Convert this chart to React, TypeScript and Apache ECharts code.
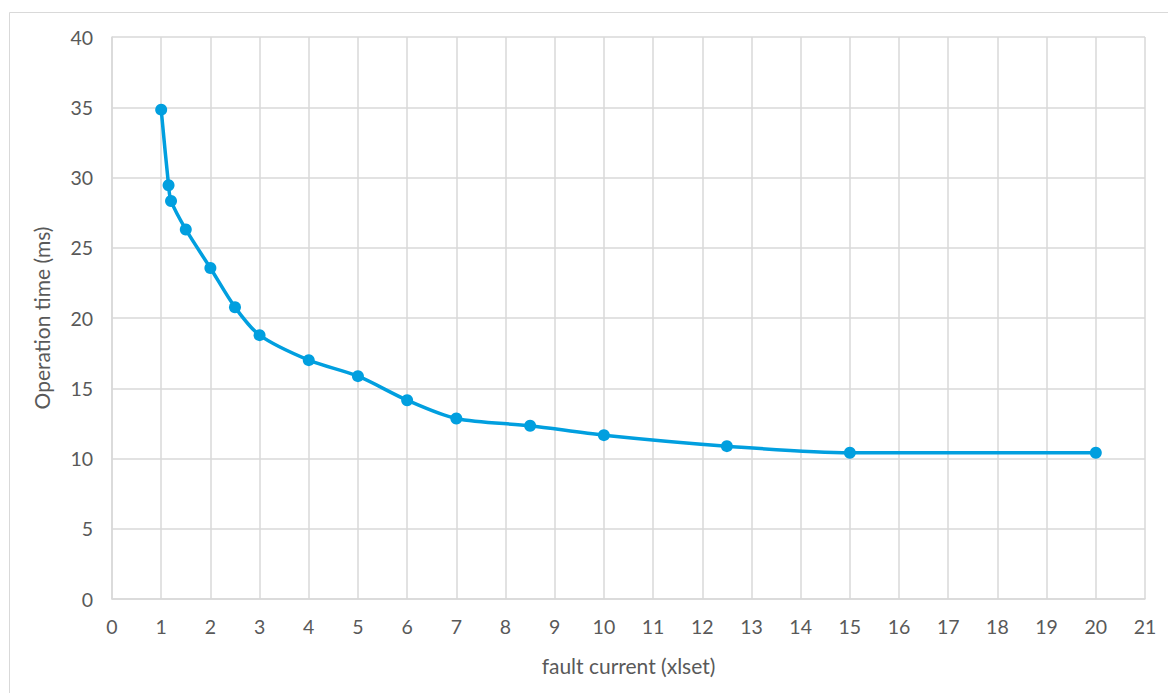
import React, { useEffect, useRef } from "react";
import * as echarts from "echarts";

const faultCurrent = [1, 1.15, 1.2, 1.5, 2, 2.5, 3, 4, 5, 6, 7, 8.5, 10, 12.5, 15, 20];
const operationTime = [34.83, 29.45, 28.33, 26.3, 23.56, 20.77, 18.78, 17.0, 15.86, 14.15, 12.85, 12.33, 11.66, 10.88, 10.41, 10.41];

const xAxisTitle = "fault current (xlset)";
const yAxisTitle = "Operation time (ms)";

const FONT = "Lato, 'Open Sans', sans-serif";
const TEXT = "#595959";
const GRIDC = "#d9d9d9";
const LINE = "#019fdf";

export default function App() {
  const ref = useRef<HTMLDivElement>(null);
  useEffect(() => {
    if (!ref.current) return;
    const chart = echarts.init(ref.current, null, { renderer: "svg" });
    chart.setOption({
      animation: false,
      backgroundColor: "#ffffff",
      textStyle: { fontFamily: FONT },
      graphic: [
        {
          type: "rect",
          shape: { x: 9.5, y: 12.5, width: 1300, height: 800 },
          style: { fill: "none", stroke: GRIDC, lineWidth: 1 },
          silent: true,
          z: -1,
        },
      ],
      grid: { left: 112, top: 37, right: 23, bottom: 94 },
      xAxis: {
        type: "value",
        min: 0,
        max: 21,
        interval: 1,
        name: xAxisTitle,
        nameLocation: "middle",
        nameGap: 56,
        nameTextStyle: { color: TEXT, fontSize: 21, fontFamily: FONT },
        axisLine: { show: true, lineStyle: { color: GRIDC, width: 1.5 } },
        axisTick: { show: false },
        axisLabel: { color: TEXT, fontSize: 19.5, fontFamily: FONT, margin: 17 },
        splitLine: { show: true, lineStyle: { color: GRIDC, width: 1.5 } },
      },
      yAxis: {
        type: "value",
        min: 0,
        max: 40,
        interval: 5,
        name: yAxisTitle,
        nameLocation: "middle",
        nameGap: 60,
        nameRotate: 90,
        nameTextStyle: { color: TEXT, fontSize: 21, fontFamily: FONT },
        axisLine: { show: true, lineStyle: { color: GRIDC, width: 1.5 } },
        axisTick: { show: false },
        axisLabel: { color: TEXT, fontSize: 19.5, fontFamily: FONT, margin: 19 },
        splitLine: { show: true, lineStyle: { color: GRIDC, width: 1.5 } },
      },
      series: [
        {
          type: "line",
          data: faultCurrent.map((x, i) => [x, operationTime[i]]),
          smooth: 0.3,
          symbol: "circle",
          symbolSize: 12,
          lineStyle: { color: LINE, width: 3.5 },
          itemStyle: { color: LINE },
        },
      ],
    });
    return () => chart.dispose();
  }, []);
  return (
    <div
      ref={ref}
      style={{ position: "absolute", left: 0, top: 0, width: 1168, height: 693 }}
    />
  );
}
